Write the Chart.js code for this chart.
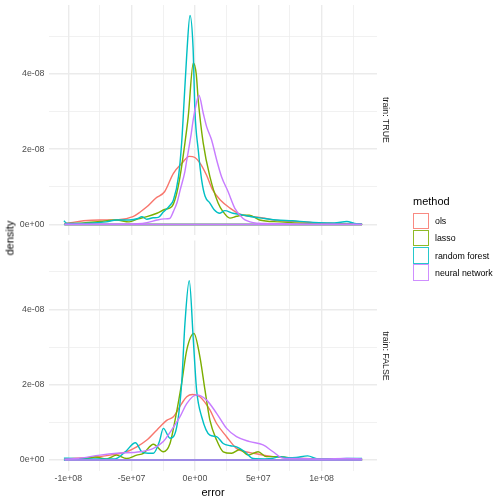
<!DOCTYPE html>
<html><head><meta charset="utf-8">
<script src="https://cdn.jsdelivr.net/npm/chart.js@4/dist/chart.umd.min.js"></script>
<style>
html,body{margin:0;padding:0;background:#fff;}
#wrap{position:relative;width:504px;height:504px;overflow:hidden;font-family:"Liberation Sans",Arial,Helvetica,sans-serif;}
canvas{position:absolute;left:0;}
.t{position:absolute;white-space:nowrap;line-height:1;z-index:2;}
.key{position:absolute;width:14.5px;height:14.5px;background:#fff;z-index:2;}
</style></head><body>
<div id="wrap">
<canvas id="cTop" width="504" height="240" style="top:0px"></canvas>
<canvas id="cBot" width="504" height="269" style="top:235px"></canvas>
</div>
<script>
// ---- data (error in units of 1e6, density in units of 1e-9) ----
const methods = ["ols", "lasso", "random forest", "neural network"];
const facetLabels = ["train: TRUE", "train: FALSE"];
const legendTitle = "method";
const xTitle = "error";
const yTitle = "density";

const xMajorTicks = [-1e8, -5e7, 0, 5e7, 1e8];
const xTickLabels = ["-1e+08", "-5e+07", "0e+00", "5e+07", "1e+08"];
const xMinorTicks = [-7.5e7, -2.5e7, 2.5e7, 7.5e7, 1.25e8];
const yMajorTicks = [0, 2e-8, 4e-8];
const yTickLabels = ["0e+00", "2e-08", "4e-08"];
const yMinorTicks = [1e-8, 3e-8, 5e-8];

// train: TRUE
const trueOlsX = [-103,-98,-88,-75,-62,-49,-43,-38,-31,-24,-17,-10,-4.5,0,4,9,14,20,28,35,43,51,67,80,93,110,132];
const trueOlsY = [0.3,0.5,1.0,1.2,1.2,2.1,3.4,4.7,7.0,8.7,13.6,16.4,18.1,17.8,16.3,13.2,9.2,6.5,4.3,2.8,2.2,1.9,1.0,0.8,0.5,0.3,0.1];
const trueLassoX = [-103,-88,-75,-62,-52,-45,-38,-30,-24,-18.4,-15,-11.8,-7.9,-5.3,-1.3,1,2.6,6.5,11.8,18.3,22,27.6,33,38,43,51,67,90,110,132];
const trueLassoY = [0.2,0.4,0.8,1.2,0.7,1.5,2.1,3.0,4.0,4.7,7.5,12.7,21.7,28.7,42.9,40,33,21.7,12.7,5.7,3.5,1.7,2.2,2.5,2.5,1.2,0.7,0.3,0.2,0.1];
const trueRfX = [-103.5,-101,-90,-80,-70,-62,-52,-45,-42,-38,-33,-29,-25,-20,-17,-13,-10.5,-9.2,-6.5,-3.9,-1.5,0,2.6,5.3,8,11.8,15,19.7,23.6,30,38,46,55,64.6,77,88,98,110,120,126,132];
const trueRfY = [1.0,0.3,0.3,0.4,0.7,1.2,1.2,1.6,2.1,1.4,1.8,1.9,3.3,5.0,6.5,12.7,21.7,29,45,55.5,47,30,19.8,11.8,7.5,5.7,4.0,3.0,3.7,3.0,2.5,2.0,1.6,1.2,1.0,0.7,0.5,0.4,0.8,0.3,0.1];
const trueNnX = [-103,-80,-60,-45,-38,-30,-24,-20,-17,-14,-11.8,-8,-6.5,-3,-1.3,1,3.1,6.5,9.2,13.1,17.1,21,26.2,31.5,38,46,55,70,90,110,132];
const trueNnY = [0.1,0.1,0.1,0.2,0.5,1.2,1.5,1.6,3.5,6.0,9.0,14,17,24,28,32,34.3,29.6,26,22.5,17.2,12.7,8.7,4.3,1.6,0.5,0.3,0.2,0.1,0.1,0.05];

// train: FALSE
const falseOlsX = [-103,-97,-80,-67,-54,-46,-38,-30,-22,-17,-10.5,-6.5,-2,3.9,11.8,17.1,25,32.8,40,46,61.7,80,100,120,132];
const falseOlsY = [0.2,0.4,0.7,1.3,2.2,3.5,5.3,8.0,10.6,11.5,15,16.8,17.4,16.8,13.3,9.7,6.2,3.1,2.2,1.8,0.9,0.5,0.3,0.3,0.2];
const falseLassoX = [-103,-85,-79,-70,-62,-54,-46,-40.7,-32.8,-25,-19.7,-15.7,-10.5,-6.5,-0.8,3.9,7.9,11.8,17.1,22.3,28.9,35.4,42,49.9,56.4,67,80,100,132];
const falseLassoY = [0.2,0.4,0.8,0.3,1.3,0.4,1.3,1.8,4.2,2.2,4.4,10.6,20.4,29.2,33.6,27.4,18.6,10.6,5.3,2.2,1.8,2.8,1.3,2.2,0.9,0.9,0.4,0.3,0.2];
const falseRfX = [-103.5,-101,-90,-75,-63,-55,-47,-42,-37,-32.8,-28,-25,-19.7,-14.4,-10.5,-7.9,-4.5,-1.3,1.3,5.3,11.8,17.1,22.3,28,32.8,39.4,46,55,61,67,74,80,89,97,110,120,132];
const falseRfY = [0.5,0.5,0.3,0.3,0.3,2.2,4.6,2.2,1.8,1.8,5.0,8.4,5.8,8.8,20.4,36.3,47.6,31.9,18.6,11.5,6.6,6.2,4.4,3.8,3.5,2.2,0.4,0.3,0.4,0.9,0.6,0.7,1.1,0.3,0.3,0.4,0.4];
const falseNnX = [-103,-93,-75,-61.7,-43.3,-32.8,-25,-18.4,-11.8,-6.5,1.3,9.2,17.1,25,32.8,43.3,53.8,61.7,69.5,80,100,120,132];
const falseNnY = [0.2,0.4,1.3,1.8,2.2,3.1,4.9,8.0,11.5,15.0,17.3,15.9,12.4,8.4,6.2,4.9,4.0,2.2,0.5,0.4,0.3,0.4,0.3];

// ---- styles ----
const methodColors = ["#F8766D", "#7CAE00", "#00BFC4", "#C77CFF"];
const FONT = '"Liberation Sans", Arial, Helvetica, sans-serif';
const X_UNIT = 1e6, Y_UNIT = 1e-9;

const panels = [
  [{x:trueOlsX,y:trueOlsY},{x:trueLassoX,y:trueLassoY},{x:trueRfX,y:trueRfY},{x:trueNnX,y:trueNnY}],
  [{x:falseOlsX,y:falseOlsY},{x:falseLassoX,y:falseLassoY},{x:falseRfX,y:falseRfY},{x:falseNnX,y:falseNnY}]
];

// shared scale limits, ggplot-like 5% expansion
const allX = panels.flat().flatMap(s => s.x.map(v => v * X_UNIT));
const allY = panels.flat().flatMap(s => s.y.map(v => v * Y_UNIT));
const xMin = Math.min(...allX), xMax = Math.max(...allX);
const yMax = Math.max(...allY);
const xLo = xMin - 0.05 * (xMax - xMin), xHi = xMax + 0.05 * (xMax - xMin);
const yLo = -0.05 * yMax, yHi = yMax * 1.05;

const isIn = (arr, v, eps) => arr.some(m => Math.abs(m - v) < eps);

function makePanel(canvasId, series, showX) {
  const datasets = [];
  series.forEach((s, i) => {
    const pts = s.x.map((v, j) => ({x: v * X_UNIT, y: s.y[j] * Y_UNIT}));
    const ord = methods.length - i;
    datasets.push({data: pts, borderColor: methodColors[i], borderWidth: 1.42, pointRadius: 0,
      showLine: true, cubicInterpolationMode: 'monotone', fill: false, order: ord});
    datasets.push({data: [{x: pts[0].x, y: 0}, {x: pts[pts.length - 1].x, y: 0}],
      borderColor: methodColors[i], borderWidth: 1.42, pointRadius: 0, showLine: true, fill: false, order: ord});
  });
  return new Chart(document.getElementById(canvasId), {
    type: 'scatter',
    data: {datasets},
    options: {
      responsive: false, animation: false, events: [],
      layout: {padding: {top: showX ? 5.5 : 5, bottom: showX ? 0 : 5, left: 0, right: 127}},
      plugins: {legend: {display: false}, tooltip: {enabled: false}},
      scales: {
        x: {
          type: 'linear', min: xLo, max: xHi,
          afterBuildTicks: sc => { sc.ticks = xMajorTicks.concat(xMinorTicks).sort((a,b)=>a-b).map(v => ({value: v})); },
          afterFit: sc => { sc.height = showX ? 33.5 : 0; sc.paddingLeft = 0; sc.paddingRight = 0; sc.paddingTop = 0; sc.paddingBottom = 0; },
          ticks: {display: showX, autoSkip: false, maxRotation: 0, minRotation: 0, padding: 3,
            color: '#4D4D4D', font: {family: FONT, size: 8.8},
            callback: v => { const k = xMajorTicks.findIndex(m => Math.abs(m - v) < 1); return k >= 0 ? xTickLabels[k] : ''; }},
          grid: {drawTicks: false, color: '#EBEBEB',
            lineWidth: c => (c.tick && isIn(xMajorTicks, c.tick.value, 1)) ? 1.42 : 0.71},
          border: {display: false}
        },
        y: {
          type: 'linear', min: yLo, max: yHi,
          afterBuildTicks: sc => { sc.ticks = yMajorTicks.concat(yMinorTicks).sort((a,b)=>a-b).map(v => ({value: v})); },
          afterFit: sc => { sc.width = 49; sc.paddingTop = 0; sc.paddingBottom = 0; sc.paddingLeft = 0; sc.paddingRight = 0; },
          ticks: {autoSkip: false, padding: 4.5, color: '#4D4D4D', font: {family: FONT, size: 8.8},
            callback: v => { const k = yMajorTicks.findIndex(m => Math.abs(m - v) < 1e-12); return k >= 0 ? yTickLabels[k] : ''; }},
          grid: {drawTicks: false, color: '#EBEBEB',
            lineWidth: c => (c.tick && isIn(yMajorTicks, c.tick.value, 1e-12)) ? 1.42 : 0.71},
          border: {display: false}
        }
      }
    }
  });
}

const chartTop = makePanel('cTop', panels[0], false);
const chartBot = makePanel('cBot', panels[1], true);

// ---- text: titles, strips, legend ----
const wrap = document.getElementById('wrap');
function addText(txt, left, top, size, color, transform) {
  const d = document.createElement('div');
  d.className = 't';
  d.textContent = txt;
  d.style.left = left + 'px'; d.style.top = top + 'px';
  d.style.fontSize = size + 'px'; d.style.color = color;
  if (transform) d.style.transform = transform;
  wrap.appendChild(d);
  return d;
}
// axis titles
addText(xTitle, 213, 491.7, 11, '#000', 'translate(-50%,-50%)');
addText(yTitle, 10, 237.7, 11, '#000', 'translate(-50%,-50%) rotate(-90deg)');
// strip labels
const stripCenters = [120, 355.5];
facetLabels.forEach((lab, i) => addText(lab, 386, stripCenters[i], 8.8, '#1A1A1A', 'translate(-50%,-50%) rotate(90deg)'));
// legend
addText(legendTitle, 413, 201, 11, '#000', 'translate(0,-50%)');
methods.forEach((m, i) => {
  const top = 212.5 + i * 17.28;
  const k = document.createElement('div');
  k.className = 'key';
  k.style.left = '412.5px'; k.style.top = top + 'px';
  k.style.border = '1.3px solid ' + methodColors[i];
  k.style.opacity = '0.85';
  wrap.appendChild(k);
  addText(m, 435, top + 8.6, 8.8, '#000', 'translate(0,-50%)');
});
</script>
</body></html>
